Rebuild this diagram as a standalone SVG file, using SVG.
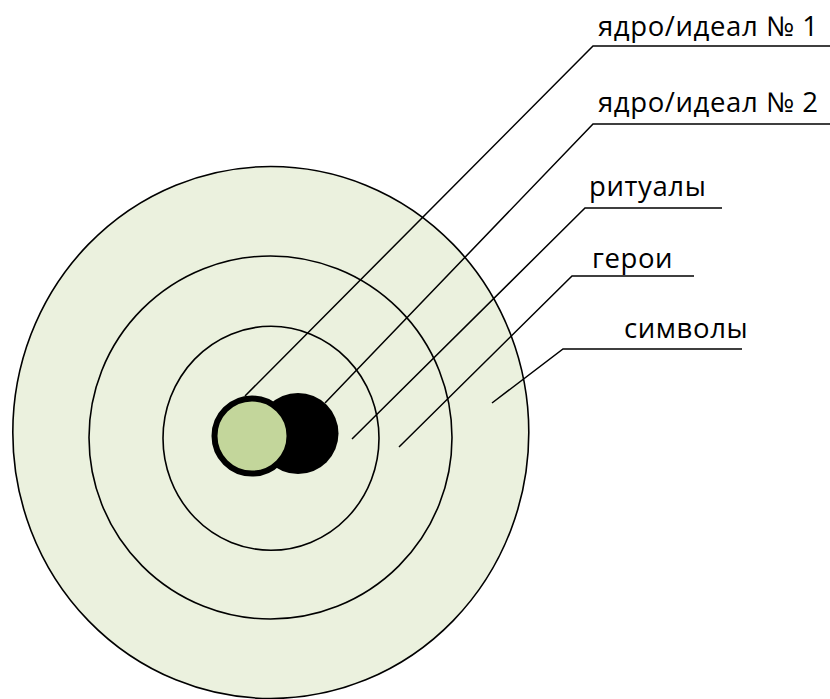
<svg xmlns="http://www.w3.org/2000/svg" width="830" height="699" viewBox="0 0 830 699">
  <style>
    .ring { fill: #EBF1DE; stroke: #000; stroke-width: 1.6; }
    .lead { fill: none; stroke: #000; stroke-width: 1.5; }
    .lbl { font-family: "Open Sans", "Noto Sans", sans-serif; font-size: 27.5px; letter-spacing: 0.6px; fill: #000; }
  </style>
  <rect width="830" height="699" fill="#fff"/>

  <!-- concentric layers -->
  <g id="layer-symbols">
    <ellipse class="ring" cx="270.8" cy="432.5" rx="258" ry="266"/>
  </g>
  <g id="layer-heroes">
    <circle class="ring" cx="270.5" cy="437.5" r="181.5"/>
  </g>
  <g id="layer-rituals">
    <ellipse class="ring" cx="271" cy="438.3" rx="108" ry="112"/>
  </g>

  <!-- core: two overlapping ideals -->
  <g id="core-2">
    <circle cx="298" cy="433.5" r="40.5" fill="#000"/>
  </g>
  <g id="core-1">
    <circle cx="252" cy="436" r="37.5" fill="#C3D69B" stroke="#000" stroke-width="6"/>
  </g>

  <!-- leader lines -->
  <g id="connectors">
    <polyline class="lead" points="830,46 593,46 245,396"/>
    <polyline class="lead" points="830,124 593,124 325,403"/>
    <polyline class="lead" points="722,208 585,208 352,439"/>
    <polyline class="lead" points="694,276 572,276 399,447"/>
    <polyline class="lead" points="742,349 563,349 492,403"/>
  </g>

  <!-- labels -->
  <g id="label-core-1"><text class="lbl" x="598" y="36">ядро/идеал № 1</text></g>
  <g id="label-core-2"><text class="lbl" x="598" y="112">ядро/идеал № 2</text></g>
  <g id="label-rituals"><text class="lbl" x="589" y="196">ритуалы</text></g>
  <g id="label-heroes"><text class="lbl" x="592" y="268">герои</text></g>
  <g id="label-symbols"><text class="lbl" x="624" y="338">символы</text></g>
</svg>
